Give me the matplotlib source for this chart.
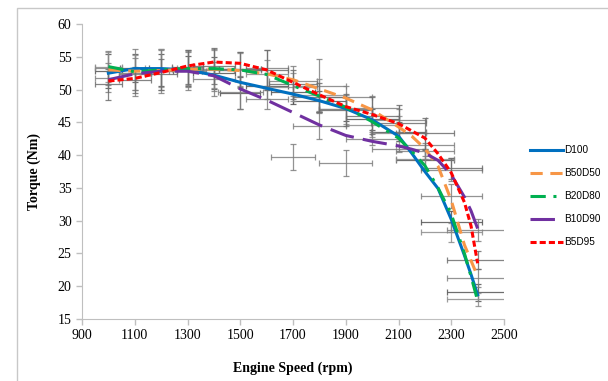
import matplotlib
matplotlib.use("Agg")
import matplotlib.pyplot as plt
from matplotlib.patches import Rectangle

# trend curves (rpm, torque in Nm)
curve_rpm = [1000, 1100, 1200, 1300, 1400, 1500, 1600, 1700, 1800, 1900,
             2000, 2100, 2150, 2200, 2250, 2300, 2350, 2375, 2400]
d100 = [52.5, 53.2, 53.2, 53.0, 52.2, 51.1, 50.2, 49.3, 48.3, 47.1,
        45.4, 42.9, 40.3, 37.5, 34.9, 30.2, 24.7, 21.8, 18.7]
b50d50 = [53.0, 52.8, 52.9, 53.1, 53.1, 52.9, 52.4, 51.5, 50.1, 48.7,
          46.9, 44.3, 42.9, 41.0, 38.3, 33.1, 26.3, 23.9, 21.5]
b20d80 = [53.5, 52.7, 53.0, 53.2, 53.2, 53.0, 52.3, 50.6, 49.0, 47.3,
          45.1, 42.6, 40.6, 38.4, 35.0, 31.0, 25.0, 21.5, 17.8]
b10d90 = [51.5, 52.4, 52.8, 52.8, 52.1, 50.1, 48.4, 46.5, 44.6, 43.0,
          42.1, 41.4, 40.9, 40.3, 39.2, 37.0, 33.6, 31.5, 28.8]
b5d95 = [51.3, 51.7, 52.6, 53.6, 54.2, 54.0, 53.0, 51.1, 49.2, 47.4,
         46.2, 44.8, 43.7, 42.6, 40.2, 37.3, 32.8, 29.2, 23.5]

# measured points with their error bars
pt_rpm = [1000, 1100, 1200, 1300, 1400, 1500, 1600, 1700, 1800, 1900,
          2000, 2100, 2200, 2300, 2400]
d100_pts = [52.8, 53.3, 53.0, 52.8, 52.5, 49.5, 50.5, 49.6, 48.2, 47.0,
            45.5, 43.6, 39.3, 29.8, 19.1]
d100_yerr = [2.6, 2.2, 2.5, 2.3, 2.4, 2.4, 2.0, 1.8, 1.6, 1.8, 1.6, 1.5, 1.5, 1.6, 1.3]
d100_xerr = [50, 55, 60, 55, 80, 75, 80, 85, 100, 100, 100, 105, 110, 115, 115]

b50d50_pts = [53.3, 52.6, 52.8, 53.2, 53.0, 53.0, 53.3, 51.3, 50.6, 48.8,
              47.2, 45.3, 41.6, 33.8, 21.3]
b50d50_yerr = [2.6, 3.6, 3.4, 2.8, 3.2, 2.8, 2.7, 2.3, 4.0, 1.7, 1.8, 1.8, 1.7, 1.8, 1.4]
b50d50_xerr = [50, 60, 60, 60, 75, 80, 80, 90, 100, 100, 100, 105, 110, 115, 115]

b20d80_pts = [53.5, 52.6, 53.3, 53.3, 53.2, 53.1, 52.3, 50.4, 49.2, 47.0,
              44.6, 43.3, 39.4, 28.2, 18.0]
b20d80_yerr = [2.3, 2.6, 2.9, 2.6, 2.9, 2.5, 2.2, 2.2, 2.4, 2.2, 1.9, 2.6, 1.5, 1.5, 1.0]
b20d80_xerr = [50, 60, 60, 60, 75, 80, 80, 90, 100, 100, 100, 105, 110, 115, 115]

b10d90_pts = [51.8, 52.4, 53.0, 52.8, 51.6, 49.6, 48.5, 39.7, 44.5, 38.8,
              42.5, 41.0, 40.6, 37.8, 28.6]
b10d90_yerr = [2.2, 2.4, 3.0, 2.9, 2.6, 2.5, 1.5, 2.0, 2.0, 2.0, 1.0, 0.6, 1.2, 1.8, 1.7]
b10d90_xerr = [50, 60, 60, 70, 80, 85, 80, 85, 100, 100, 100, 100, 110, 115, 115]

b5d95_pts = [50.8, 51.5, 52.3, 53.4, 53.6, 53.1, 53.0, 50.8, 48.8, 46.9,
             46.0, 44.9, 43.3, 38.0, 24.0]
b5d95_yerr = [2.4, 2.0, 2.4, 2.6, 2.7, 2.7, 3.0, 2.2, 2.2, 2.4, 2.8, 2.8, 2.4, 1.6, 1.4]
b5d95_xerr = [50, 60, 60, 60, 80, 80, 80, 90, 100, 100, 100, 105, 110, 115, 115]

series = [
    ("D100", d100, d100_pts, d100_yerr, d100_xerr, "#0070C0", "-"),
    ("B50D50", b50d50, b50d50_pts, b50d50_yerr, b50d50_xerr, "#F79646", (0, (4, 2.5))),
    ("B20D80", b20d80, b20d80_pts, b20d80_yerr, b20d80_xerr, "#00B050", (0, (5, 2.5, 1, 2.5))),
    ("B10D90", b10d90, b10d90_pts, b10d90_yerr, b10d90_xerr, "#7030A0", (0, (8, 3))),
    ("B5D95", b5d95, b5d95_pts, b5d95_yerr, b5d95_xerr, "#FF0000", (0, (2, 1))),
]
bar_colors = ["#555555", "#808080", "#8c8c8c", "#808080", "#6e6e6e"]

fig = plt.figure(figsize=(6.08, 3.81), dpi=100)
ax = fig.add_axes([82 / 608, 1 - 319 / 381, 422 / 608, 295 / 381])

# light frame around the chart area (cut off at right and bottom)
fig.patches.append(Rectangle((17 / 608, -0.5), 2, 1 - 8 / 381 + 0.5,
                             transform=fig.transFigure, fill=False,
                             edgecolor="#c8c8c8", lw=1))

for (name, curve, pts, yerr, xerr, color, ls), bc in zip(series, bar_colors):
    ax.errorbar(pt_rpm, pts, yerr=yerr, xerr=xerr, fmt="none",
                ecolor=bc, elinewidth=0.9, capsize=2, capthick=0.9, alpha=0.85)

for name, curve, pts, yerr, xerr, color, ls in series:
    ax.plot(curve_rpm, curve, color=color, ls=ls, lw=2.2, label=name)

ax.set_xlim(900, 2500)
ax.set_ylim(15, 60)
ax.set_xticks(range(900, 2501, 200))
ax.set_yticks(range(15, 61, 5))

serif = ["Liberation Serif", "DejaVu Serif"]
for lab in ax.get_xticklabels() + ax.get_yticklabels():
    lab.set_family(serif)
    lab.set_fontsize(10)
ax.tick_params(colors="#bfbfbf", labelcolor="black", length=4, width=1)

for s in ["top", "right"]:
    ax.spines[s].set_visible(False)
for s in ["left", "bottom"]:
    ax.spines[s].set_color("#bfbfbf")

ax.set_xlabel("Engine Speed (rpm)", family=serif, fontsize=10, fontweight="bold", labelpad=14)
ax.set_ylabel("Torque (Nm)", family=serif, fontsize=10, fontweight="bold", labelpad=12)

leg = ax.legend(loc="center left", bbox_to_anchor=(530 / 608, 1 - 196 / 381),
                bbox_transform=fig.transFigure, frameon=False,
                prop={"family": "Liberation Sans", "size": 7.2},
                handlelength=3.3, handletextpad=0.15, labelspacing=1.3,
                borderpad=0, borderaxespad=0)

fig.savefig("out.png", dpi=100)
